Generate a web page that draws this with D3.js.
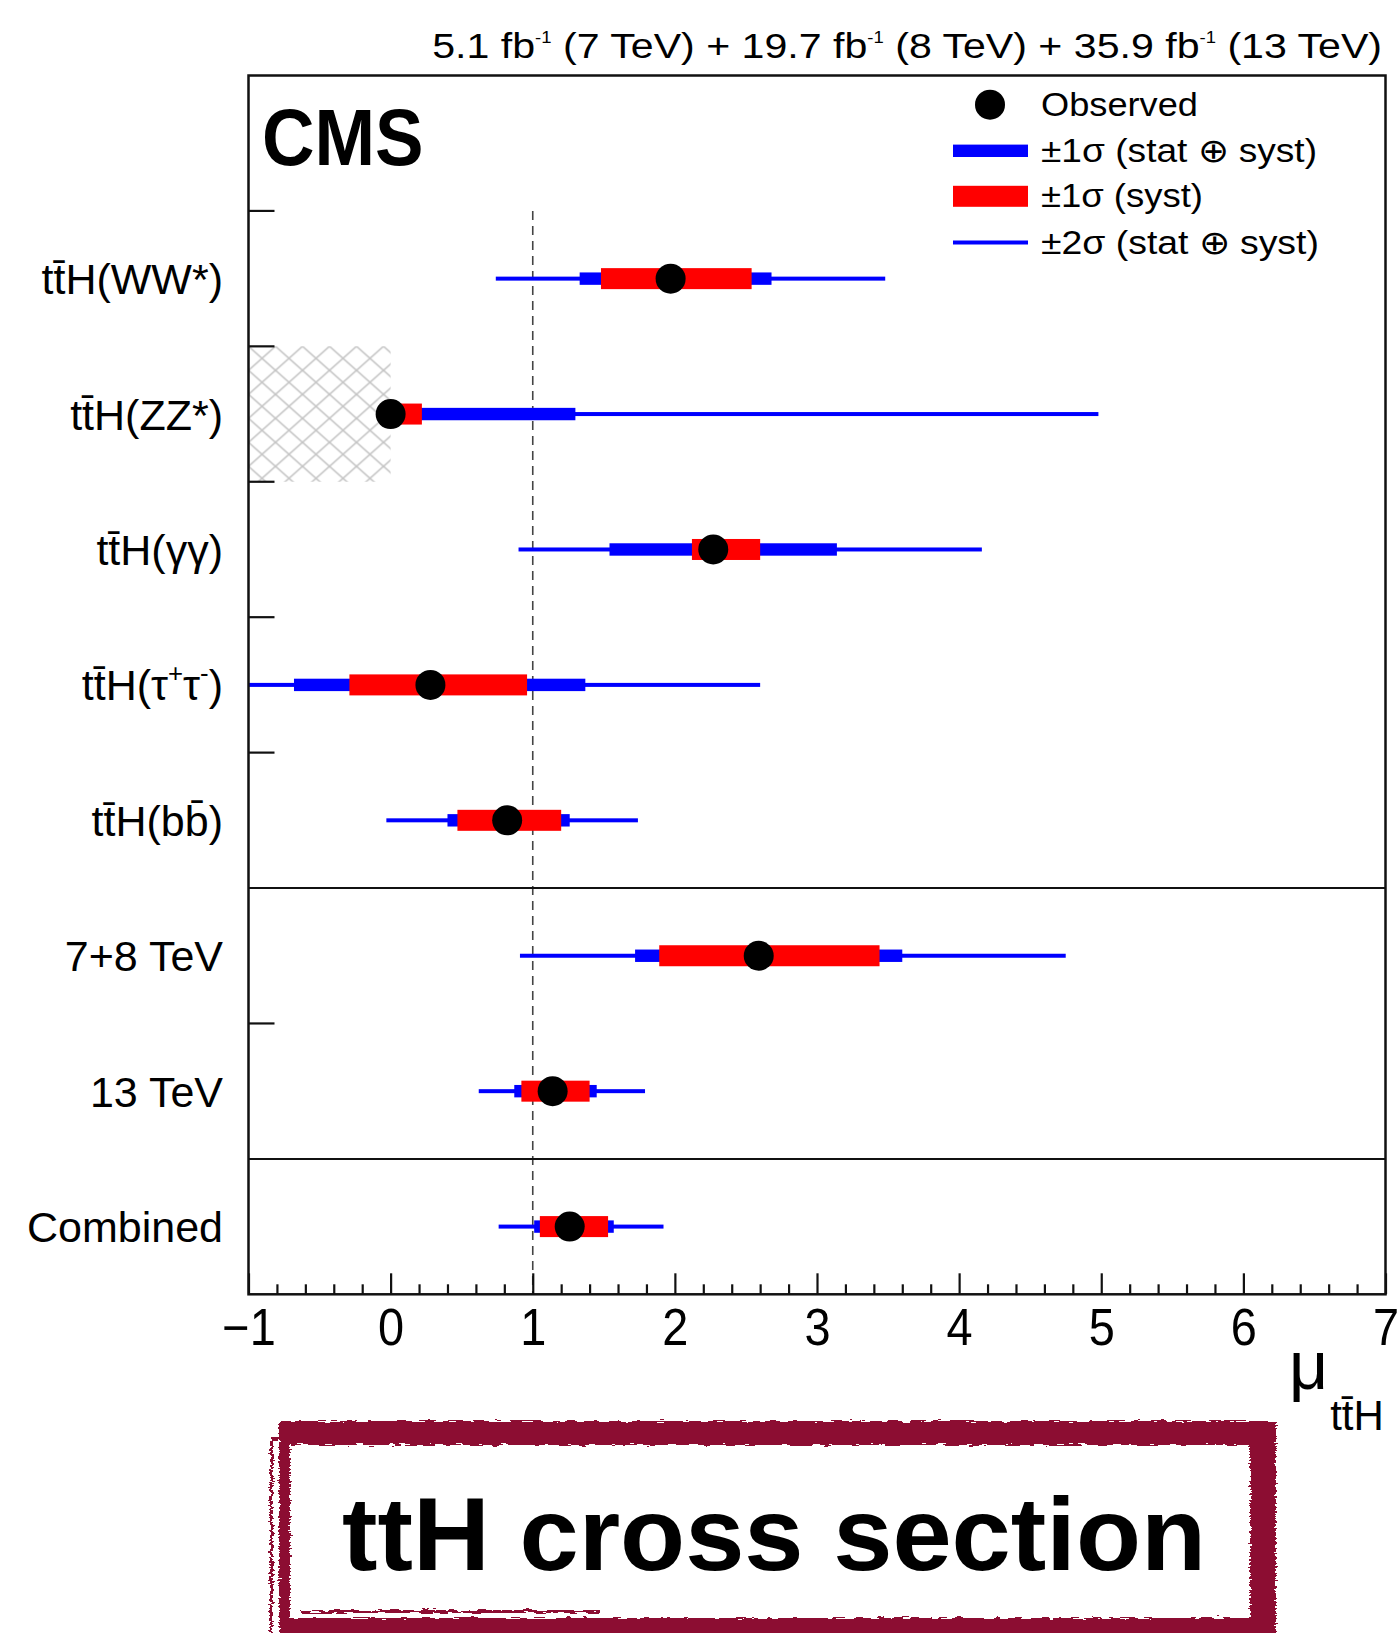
<!DOCTYPE html>
<html><head><meta charset="utf-8">
<script src="https://cdn.jsdelivr.net/npm/d3@7"></script>
<style>
body{margin:0;background:#fff}
svg{display:block}
text{font-family:"Liberation Sans",Arial,Helvetica,sans-serif;fill:#000}
</style>
</head><body>
<svg id="c" width="1399" height="1633"></svg>
<script>
// ---------------- data ----------------
const categories = ["tt\u0304H(WW*)", "tt\u0304H(ZZ*)", "tt\u0304H(γγ)", "tt\u0304H(τ^{+}τ^{-})", "tt\u0304H(bb\u0304)", "7+8 TeV", "13 TeV", "Combined"];
const observed = [1.97, 0.00, 2.27, 0.28, 0.82, 2.59, 1.14, 1.26];
const tot1Lo   = [1.33, 0.00, 1.54, -0.68, 0.40, 1.72, 0.87, 1.01];
const tot1Hi   = [2.68, 1.30, 3.14, 1.37, 1.26, 3.60, 1.45, 1.57];
const syst1Lo  = [1.48, 0.00, 2.12, -0.29, 0.47, 1.89, 0.92, 1.05];
const syst1Hi  = [2.54, 0.22, 2.60, 0.96, 1.20, 3.44, 1.40, 1.53];
const tot2Lo   = [0.74, 0.00, 0.90, -1.00, -0.03, 0.91, 0.62, 0.76];
const tot2Hi   = [3.48, 4.98, 4.16, 2.60, 1.74, 4.75, 1.79, 1.92];
const groupStarts = ["7+8 TeV", "Combined"];      // full-width separators above these rows
const hatchedRow = "tt\u0304H(ZZ*)";
const hatchedRange = [-1, 0];
const smValue = 1;
const xTicks = [-1, 0, 1, 2, 3, 4, 5, 6, 7];
const legendLabels = ["Observed", "±1σ (stat ⊕ syst)", "±1σ (syst)", "±2σ (stat ⊕ syst)"];
const lumiText = "5.1 fb^{-1} (7 TeV) + 19.7 fb^{-1} (8 TeV) + 35.9 fb^{-1} (13 TeV)";
const cmsText = "CMS";
const axisTitle = "μ";
const axisSub = "tt\u0304H";
const bannerText = "ttH cross section";

// ---------------- layout ----------------
const svg = d3.select("#c");
const M = {left: 248.5, right: 1385.5, top: 75.5, bottom: 1294.3};
const BLUE = "#0000ff", RED = "#ff0000";
const x = d3.scaleLinear().domain([-1, 7]).range([M.left, M.right]);
const y = d3.scaleBand().domain(["__top"].concat(categories)).range([M.top, M.bottom]).padding(0);
const yc = c => y(c) + y.bandwidth() / 2;

function rich(sel, str, fs, supScale = 0.6, supShift = 0.45) {
  const re = /([\^_])\{([^}]*)\}/g; let last = 0, m; const parts = [];
  while ((m = re.exec(str))) {
    if (m.index > last) parts.push({t: str.slice(last, m.index), k: 0});
    parts.push({t: m[2], k: m[1] === "^" ? 1 : -1});
    last = re.lastIndex;
  }
  if (last < str.length) parts.push({t: str.slice(last), k: 0});
  let cur = 0;
  parts.forEach(p => {
    const target = p.k === 1 ? -supShift * fs : p.k === -1 ? 0.3 * fs : 0;
    sel.append("tspan").attr("dy", target - cur).attr("font-size", p.k ? fs * supScale : fs).text(p.t);
    cur = target;
  });
}
// place text in a group at (gx,gy) and horizontally scale it to a target width
function fitText(parent, gx, gy, anchor, width) {
  const g = parent.append("g").attr("transform", `translate(${gx},${gy})`);
  const t = g.append("text").attr("text-anchor", anchor);
  return {g, t, fit() { if (width) { const w = t.node().getBBox().width; t.attr("transform", `scale(${width / w},1)`); } }};
}

const defs = svg.append("defs");
defs.append("clipPath").attr("id", "plotclip").append("rect")
  .attr("x", M.left).attr("y", M.top).attr("width", M.right - M.left).attr("height", M.bottom - M.top);
const pat = defs.append("pattern").attr("id", "hatch").attr("patternUnits", "userSpaceOnUse")
  .attr("width", 27).attr("height", 24).attr("x", x(hatchedRange[0])).attr("y", y(hatchedRow));
pat.append("path").attr("d", "M0,0L27,24M27,0L0,24M-1,23L1,25M26,-1L28,1M-1,1L1,-1M26,25L28,23")
  .attr("stroke", "#c4c4c4").attr("stroke-width", 1.6).attr("fill", "none");
const filt = defs.append("filter").attr("id", "rough").attr("x", "-5%").attr("y", "-20%").attr("width", "110%").attr("height", "140%");
filt.append("feTurbulence").attr("type", "fractalNoise").attr("baseFrequency", "0.09 0.6").attr("numOctaves", 2).attr("seed", 4).attr("result", "n");
filt.append("feDisplacementMap").attr("in", "SourceGraphic").attr("in2", "n").attr("scale", 7)
  .attr("xChannelSelector", "R").attr("yChannelSelector", "G");

// hatched region
svg.append("rect").attr("x", x(hatchedRange[0])).attr("y", y(hatchedRow))
  .attr("width", x(hatchedRange[1]) - x(hatchedRange[0])).attr("height", y.bandwidth())
  .attr("fill", "url(#hatch)");

// SM dashed line
svg.append("line").attr("x1", x(smValue)).attr("x2", x(smValue))
  .attr("y1", y(categories[0])).attr("y2", M.bottom)
  .attr("stroke", "#444").attr("stroke-width", 1.6).attr("stroke-dasharray", "9,6");

// error bars
const plot = svg.append("g").attr("clip-path", "url(#plotclip)");
const rows = plot.selectAll("g.row").data(categories).join("g").attr("class", "row");
rows.append("rect").attr("x", (d, i) => x(tot2Lo[i])).attr("width", (d, i) => x(tot2Hi[i]) - x(tot2Lo[i]))
  .attr("y", d => yc(d) - 2).attr("height", 4).attr("fill", BLUE);
rows.append("rect").attr("x", (d, i) => x(tot1Lo[i])).attr("width", (d, i) => x(tot1Hi[i]) - x(tot1Lo[i]))
  .attr("y", d => yc(d) - 6.2).attr("height", 12.4).attr("fill", BLUE);
rows.append("rect").attr("x", (d, i) => x(syst1Lo[i])).attr("width", (d, i) => x(syst1Hi[i]) - x(syst1Lo[i]))
  .attr("y", d => yc(d) - 10.5).attr("height", 21).attr("fill", RED);
rows.append("circle").attr("cx", (d, i) => x(observed[i])).attr("cy", d => yc(d)).attr("r", 15).attr("fill", "#000");

// separators and y ticks
groupStarts.forEach(c => {
  svg.append("line").attr("x1", M.left).attr("x2", M.right).attr("y1", y(c)).attr("y2", y(c))
    .attr("stroke", "#111").attr("stroke-width", 2);
});
categories.filter(c => !groupStarts.includes(c)).forEach(c => {
  svg.append("line").attr("x1", M.left).attr("x2", M.left + 26).attr("y1", y(c)).attr("y2", y(c))
    .attr("stroke", "#111").attr("stroke-width", 2.2);
});

// x axis
const gx = svg.append("g").attr("transform", `translate(0,${M.bottom})`);
gx.call(d3.axisBottom(x).tickValues(xTicks).tickSizeInner(-21).tickSizeOuter(0).tickPadding(0).tickFormat(d3.format("d")));
gx.select(".domain").remove();
gx.selectAll(".tick line").attr("stroke", "#111").attr("stroke-width", 2.2);
gx.selectAll(".tick text").attr("y", 50.7).attr("dy", 0).attr("font-size", 51)
  .attr("font-family", '"Liberation Sans",Arial,sans-serif').attr("fill", "#000").attr("transform", "scale(0.92,1)");
const minorTicks = d3.range(-1, 7.0001, 0.2).filter(v => Math.abs(v - Math.round(v)) > 1e-6);
const gm = svg.append("g").attr("transform", `translate(0,${M.bottom})`);
gm.call(d3.axisBottom(x).tickValues(minorTicks).tickSizeInner(-10).tickSizeOuter(0).tickFormat(""));
gm.select(".domain").remove();
gm.selectAll(".tick line").attr("stroke", "#111").attr("stroke-width", 2.2);

// frame
svg.append("rect").attr("x", M.left).attr("y", M.top).attr("width", M.right - M.left).attr("height", M.bottom - M.top)
  .attr("fill", "none").attr("stroke", "#111").attr("stroke-width", 2.5);

// y labels
categories.forEach(c => {
  const t = svg.append("text").attr("x", 223).attr("y", yc(c) + 15.5).attr("text-anchor", "end");
  rich(t, c, 43, 0.6, 0.42);
});

// axis title
const at = svg.append("text").attr("x", 1289).attr("y", 1389);
at.append("tspan").attr("font-size", 68).text(axisTitle);
at.append("tspan").attr("font-size", 42).attr("dy", 41).attr("dx", 2).text(axisSub);

// lumi text
const lt = fitText(svg, 1382, 58.3, "end", 950);
rich(lt.t, lumiText, 35, 0.45, 0.43);
lt.fit();

// CMS
const cms = fitText(svg, 262, 165, "start", 161.6);
cms.t.attr("font-size", 79).attr("font-weight", "bold").text(cmsText);
cms.fit();

// legend
const legY = [104.7, 150.8, 196.3, 242.5];
const legW = [157, 277, 162, 279];
const lg = svg.append("g");
lg.append("circle").attr("cx", 990).attr("cy", legY[0]).attr("r", 15).attr("fill", "#000");
lg.append("rect").attr("x", 953).attr("width", 75).attr("y", legY[1] - 6.2).attr("height", 12.4).attr("fill", BLUE);
lg.append("rect").attr("x", 953).attr("width", 75).attr("y", legY[2] - 10.5).attr("height", 21).attr("fill", RED);
lg.append("rect").attr("x", 953).attr("width", 75).attr("y", legY[3] - 2).attr("height", 4).attr("fill", BLUE);
legendLabels.forEach((s, i) => {
  const f = fitText(lg, 1041, legY[i] + 11, "start", legW[i]);
  f.t.attr("font-size", 33).text(s);
  f.fit();
});

// banner
const bn = svg.append("g");
bn.append("path").attr("fill-rule", "evenodd").attr("fill", "#8c0a30").attr("filter", "url(#rough)")
  .attr("d", "M279,1421H1276V1645H279Z M290,1445V1618H1250V1445Z");
bn.append("path").attr("fill", "#8c0a30").attr("filter", "url(#rough)")
  .attr("d", "M272,1437H420V1440H272Z M270,1440H273V1633H270Z M1268,1430H1272V1633H1268Z M300,1610H600V1613H300Z");
const bt = fitText(bn, 774, 1570, "middle", 864);
bt.t.attr("font-size", 104).attr("font-weight", "bold").text(bannerText);
bt.fit();
</script>
</body></html>
